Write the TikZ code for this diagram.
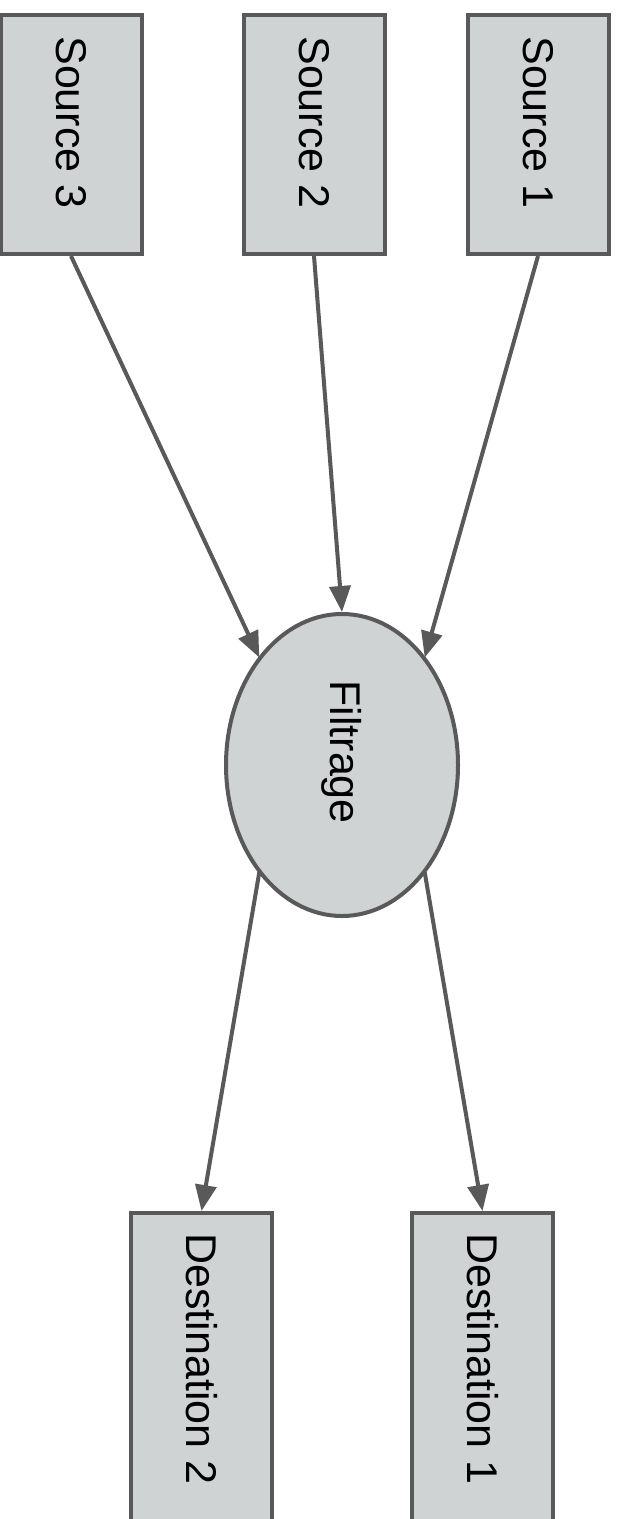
\documentclass[tikz,border=0pt]{standalone}
\usepackage{fontspec}
\setmainfont{Liberation Sans}
\usetikzlibrary{arrows.meta,shapes.geometric,calc}
\definecolor{boxfill}{HTML}{CFD3D4}
\definecolor{boxline}{HTML}{595959}
\tikzset{
  box/.style={draw=boxline, fill=boxfill, line width=2pt, rectangle, inner sep=0pt, minimum width=70.5pt, minimum height=119.5pt},
  oval/.style={draw=boxline, fill=boxfill, line width=2pt, ellipse, inner sep=0pt, minimum width=116pt, minimum height=151pt},
  lbl/.style={rotate=-90, inner sep=0pt, font=\fontsize{21.5}{25}\selectfont, text=black},
  conn/.style={draw=boxline, line width=2pt, -{Triangle[length=13pt,width=10.5pt]}}
}
\begin{document}
\begin{tikzpicture}[x=0.5pt,y=-0.5pt]
\useasboundingbox (0,0) rectangle (621,1519);
\clip (0,0) rectangle (621,1519);
\fill[white] (0,0) rectangle (621,1519);
% sources
\node[box] (s3) at (71,134.5) {};
\node[box] (s2) at (314,134.5) {};
\node[box] (s1) at (538,134.5) {};
\node[lbl, anchor=west] (t3) at ($(s3.north)+(0,23)$) {Source 3};
\node[lbl, anchor=west] (t2) at ($(s2.north)+(0,23)$) {Source 2};
\node[lbl, anchor=west] (t1) at ($(s1.north)+(0,23)$) {Source 1};
% filter
\node[oval] (F) at (342,765) {};
\node[lbl, anchor=west] (tf) at ($(F.north)+(0,68)$) {Filtrage};
% destinations
\node[box, minimum height=160pt] (d2) at (201.5,1373) {};
\node[box, minimum height=160pt] (d1) at (482.5,1373) {};
\node[lbl, anchor=west] (td2) at ($(d2.north)+(0,22)$) {Destination 2};
\node[lbl, anchor=west] (td1) at ($(d1.north)+(0,22)$) {Destination 1};
% connection points on the ellipse
\coordinate (ful) at ($(F.center)+(225:117 and 152)$);
\coordinate (fur) at ($(F.center)+(315:117 and 152)$);
\coordinate (fll) at ($(F.center)+(135:117 and 152)$);
\coordinate (flr) at ($(F.center)+(45:117 and 152)$);
% connectors
\draw[conn] (s3.south) -- (ful);
\draw[conn] (s2.south) -- (F.north);
\draw[conn] (s1.south) -- (fur);
\draw[conn] (fll) -- (d2.north);
\draw[conn] (flr) -- (d1.north);
\end{tikzpicture}
\end{document}
